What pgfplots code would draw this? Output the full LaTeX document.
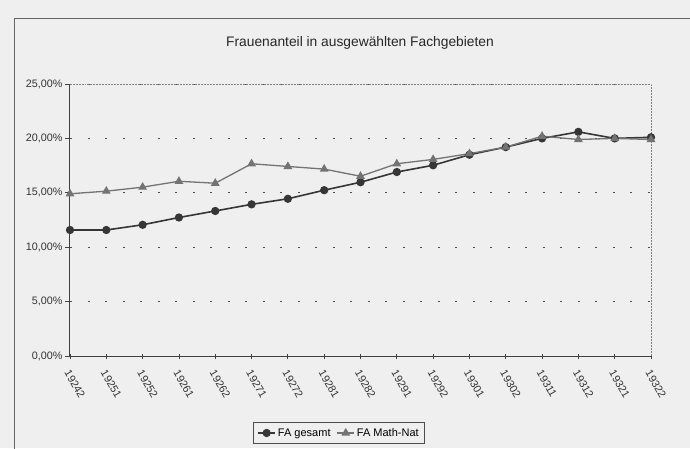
\documentclass[border=0pt]{standalone}
\usepackage{fontspec}
\setmainfont{Liberation Sans}
\usepackage{pgfplots}
\pgfplotsset{compat=1.18}
\definecolor{bg}{HTML}{EFEFEF}
\definecolor{gesamt}{HTML}{363636}
\definecolor{mathnat}{HTML}{737373}
\begin{document}
\begin{tikzpicture}[x=1pt,y=1pt]
\fill[bg] (0,0) rectangle (690,448);
\useasboundingbox (0,0) rectangle (690,448);
\draw[black!60, line width=0.8pt] (14,-10) -- (14,429.5) -- (700,429.5);
\node[font=\fontsize{13.8}{15}\selectfont, text=black!85] at (360,405) {Frauenanteil in ausgewählten Fachgebieten};
\begin{axis}[
  at={(70pt,92pt)}, anchor=south west,
  scale only axis, width=581pt, height=272pt,
  xmin=0, xmax=16, ymin=0, ymax=25,
  axis x line*=bottom, axis y line*=left,
  axis line style={black!75, line width=1pt},
  x axis line style={-}, y axis line style={-},
  xtick={0,...,16},
  xticklabels={19242,19251,19252,19261,19262,19271,19272,19281,19282,19291,19292,19301,19302,19311,19312,19321,19322},
  ytick={0,5,10,15,20,25},
  yticklabels={{0,00\%},{5,00\%},{10,00\%},{15,00\%},{20,00\%},{25,00\%}},
  /pgf/number format/assume math mode=true,
  tick style={black!75, line width=0.8pt},
  xtick align=center, ytick align=outside,
  major tick length=5pt,
  ymajorgrids,
  major grid style={black!70, line width=1pt, dash pattern=on 2.2pt off 15.3pt},
  yticklabel style={font=\fontsize{10.8}{12}\selectfont, text=black!80, xshift=1pt},
  xticklabel style={font=\fontsize{10.8}{12}\selectfont, text=black!80, rotate=-60, anchor=west, xshift=6pt, yshift=-8.5pt},
  legend style={at={(0.463,-0.283)}, anchor=center, legend columns=2, draw=black!70, fill=bg,
    font=\fontsize{11}{12}\selectfont, inner sep=3.5pt, line width=0.8pt,
    /tikz/every even column/.append style={column sep=4pt}},
  legend cell align=left,
  clip=false,
]
\draw[black!50, line width=0.5pt, densely dotted] (rel axis cs:0,1) -- (rel axis cs:1,1) -- (rel axis cs:1,0);
\addplot[color=gesamt, line width=1.6pt, mark=*, mark size=3.3pt, mark options={fill=gesamt, solid}] coordinates {
(0,11.58) (1,11.58) (2,12.06) (3,12.73) (4,13.33) (5,13.94) (6,14.45) (7,15.24) (8,15.97) (9,16.91) (10,17.53) (11,18.5) (12,19.2) (13,20.0) (14,20.6) (15,20.0) (16,20.1)
};
\addlegendentry{FA gesamt}
\addplot[color=mathnat, line width=1.3pt, mark=triangle*, mark size=3.8pt, mark options={fill=mathnat, solid}] coordinates {
(0,14.91) (1,15.15) (2,15.52) (3,16.06) (4,15.88) (5,17.67) (6,17.42) (7,17.18) (8,16.52) (9,17.67) (10,18.07) (11,18.6) (12,19.2) (13,20.2) (14,19.9) (15,20.0) (16,19.9)
};
\addlegendentry{FA Math-Nat}
\end{axis}
\end{tikzpicture}
\end{document}
